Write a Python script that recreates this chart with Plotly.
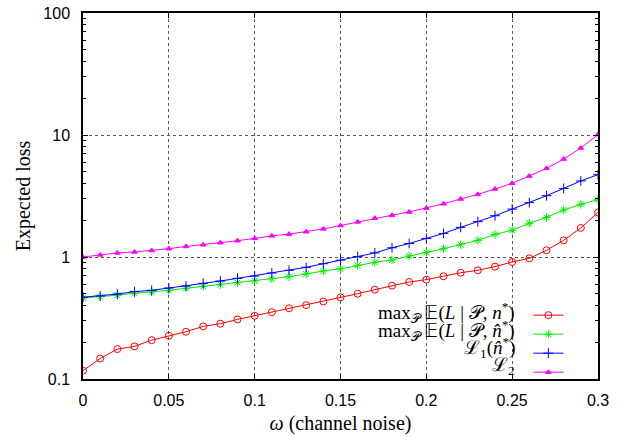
import plotly.graph_objects as go

omega = [round(0.01 * i, 2) for i in range(31)]

max_e_nstar = [0.117, 0.147, 0.176, 0.185, 0.208, 0.226, 0.244, 0.270, 0.284, 0.308,
               0.330, 0.353, 0.380, 0.403, 0.432, 0.467, 0.500, 0.540, 0.582, 0.624,
               0.652, 0.695, 0.743, 0.778, 0.834, 0.910, 0.975, 1.135, 1.37, 1.73, 2.32]
max_e_nhat = [0.462, 0.473, 0.486, 0.504, 0.516, 0.533, 0.554, 0.575, 0.593, 0.616,
              0.636, 0.664, 0.690, 0.726, 0.768, 0.800, 0.855, 0.905, 0.945, 1.02,
              1.09, 1.17, 1.26, 1.37, 1.53, 1.66, 1.89, 2.11, 2.43, 2.70, 2.95]
l1_nhat = [0.468, 0.479, 0.497, 0.520, 0.533, 0.557, 0.578, 0.608, 0.635, 0.668,
           0.698, 0.739, 0.778, 0.823, 0.881, 0.942, 1.01, 1.08, 1.19, 1.29,
           1.42, 1.56, 1.75, 1.95, 2.18, 2.47, 2.79, 3.18, 3.65, 4.20, 4.73]
l2 = [1.00, 1.04, 1.08, 1.10, 1.13, 1.17, 1.22, 1.26, 1.31, 1.36,
      1.42, 1.49, 1.54, 1.61, 1.70, 1.81, 1.94, 2.08, 2.20, 2.34,
      2.51, 2.73, 2.99, 3.26, 3.61, 4.02, 4.61, 5.33, 6.35, 7.82, 10.1]

labels = [
    "max<sub>𝒫</sub> 𝔼(<i>L</i> | 𝒫, <i>n</i><sup>*</sup>)",
    "max<sub>𝒫</sub> 𝔼(<i>L</i> | 𝒫, <i>n̂</i><sup>*</sup>)",
    "ℒ<sub>1</sub>(<i>n̂</i><sup>*</sup>)",
    "ℒ<sub>2</sub>",
]
colors = ["#ff0000", "#00ee00", "#0000ff", "#ff00ff"]
symbols = ["circle-open", "asterisk-open", "cross-thin-open", "triangle-up"]
sizes = [7, 7, 7, 5]
series = [max_e_nstar, max_e_nhat, l1_nhat, l2]

x_ticks = [0, 0.05, 0.1, 0.15, 0.2, 0.25, 0.3]
x_ticktext = ["0", "0.05", "0.1", "0.15", "0.2", "0.25", "0.3"]
y_ticks = [0.1, 1, 10, 100]
y_ticktext = ["0.1", "1", "10", "100"]

fig = go.Figure()
for ys, c, s, sz, lab in zip(series, colors, symbols, sizes, labels):
    fig.add_trace(go.Scatter(
        x=omega, y=ys, mode="lines+markers", name=" ",
        line=dict(color=c, width=1),
        marker=dict(symbol=s, size=sz, color=c, line=dict(color=c, width=1)),
        hovertext=lab,
    ))

row_y = [0.181, 0.133, 0.085, 0.036]
for lab, yy in zip(labels, row_y):
    fig.add_annotation(text=lab, xref="paper", yref="paper", x=0.843, y=yy,
                       xanchor="right", yanchor="middle", showarrow=False,
                       font=dict(family="Liberation Serif", size=19, color="black"))

fig.update_layout(
    width=636, height=437,
    margin=dict(l=83, r=38, t=13, b=58),
    paper_bgcolor="white", plot_bgcolor="white",
    font=dict(family="Liberation Sans", size=16, color="black"),
    showlegend=True,
    legend=dict(x=0.958, y=-0.021, xanchor="right", yanchor="bottom",
                bgcolor="rgba(0,0,0,0)", font=dict(size=10),
                tracegroupgap=0, itemwidth=30),
    xaxis=dict(
        range=[0, 0.3], tickvals=x_ticks, ticktext=x_ticktext, automargin=False,
        ticks="inside", ticklen=5, tickcolor="black", mirror="allticks",
        showline=True, linecolor="black", linewidth=1.5,
        showgrid=True, gridcolor="#555", griddash="dot", gridwidth=1,
        zeroline=False, ticklabelstandoff=6,
        title=dict(text="<i>ω</i> (channel noise)", standoff=8,
                   font=dict(family="Liberation Serif", size=20)),
    ),
    yaxis=dict(
        type="log", range=[-1, 2], tickvals=y_ticks, ticktext=y_ticktext, automargin=False,
        ticks="inside", ticklen=5, tickcolor="black", mirror="allticks",
        showline=True, linecolor="black", linewidth=1.5,
        showgrid=True, gridcolor="#555", griddash="dot", gridwidth=1,
        zeroline=False, ticklabelstandoff=8,
        minor=dict(ticks="inside", ticklen=3, tickcolor="black", showgrid=False, dtick="D1"),
        title=dict(text="Expected loss", standoff=7,
                   font=dict(family="Liberation Serif", size=20)),
    ),
)

fig.write_html("out.html", config={"displayModeBar": False},
               post_script="document.body.style.margin='0';document.body.style.overflow='hidden';")
